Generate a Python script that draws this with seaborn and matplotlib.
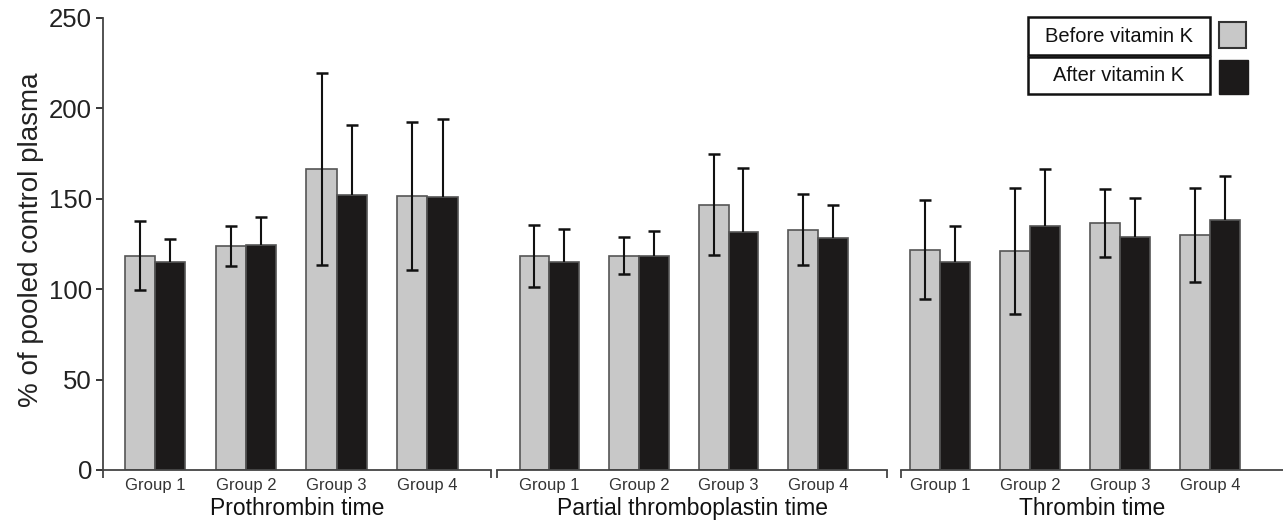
import numpy as np
import pandas as pd
import seaborn as sns
import matplotlib.pyplot as plt
from matplotlib.patches import Rectangle

# ===============================
# Data
# ===============================
TESTS = ["Prothrombin time", "Partial thromboplastin time", "Thrombin time"]
GROUPS = ["Group 1", "Group 2", "Group 3", "Group 4"]
PERIODS = ["Before vitamin K", "After vitamin K"]

pt_before = [118.5, 123.7, 166.3, 151.7]
pt_before_sd = [19.0, 11.0, 53.0, 41.0]
pt_after = [115.0, 124.3, 152.1, 151.0]
pt_after_sd = [12.6, 15.5, 38.9, 43.3]

ptt_before = [118.4, 118.5, 146.8, 132.9]
ptt_before_sd = [17.0, 10.2, 28.0, 19.8]
ptt_after = [114.9, 118.4, 131.4, 128.5]
ptt_after_sd = [18.4, 14.0, 35.6, 18.3]

tt_before = [121.9, 121.1, 136.6, 130.0]
tt_before_sd = [27.2, 35.0, 19.0, 26.0]
tt_after = [115.2, 135.0, 128.7, 138.1]
tt_after_sd = [19.6, 31.3, 21.7, 24.7]

GRAY = "#c8c8c8"
BLACK = "#1c1a1a"

values = {
    TESTS[0]: (pt_before, pt_after, pt_before_sd, pt_after_sd),
    TESTS[1]: (ptt_before, ptt_after, ptt_before_sd, ptt_after_sd),
    TESTS[2]: (tt_before, tt_after, tt_before_sd, tt_after_sd),
}

rows = []
for test, (bef, aft, bsd, asd) in values.items():
    for g, b, a, sb, sa in zip(GROUPS, bef, aft, bsd, asd):
        rows.append({"test": test, "group": g, "period": PERIODS[0], "value": b, "sd": sb})
        rows.append({"test": test, "group": g, "period": PERIODS[1], "value": a, "sd": sa})
df = pd.DataFrame(rows)

# ===============================
# Style
# ===============================
sns.set_style("ticks")
plt.rcParams["font.family"] = ["Liberation Sans", "DejaVu Sans"]
plt.rcParams["axes.edgecolor"] = "#444444"
plt.rcParams["axes.linewidth"] = 1.3

fig = plt.figure(figsize=(12.83, 5.24), dpi=100)
bottom, height = 0.1031, 0.8626
positions = [
    [0.0803, bottom, 0.3024, height],
    [0.3874, bottom, 0.3040, height],
    [0.7023, bottom, 0.2977, height],
]
xlims = [(-0.573, 3.70), (-0.584, 3.77), (-0.43, 3.81)]

for i, test in enumerate(TESTS):
    ax = fig.add_axes(positions[i])
    sub = df[df["test"] == test]
    sns.barplot(
        data=sub, x="group", y="value", hue="period",
        order=GROUPS, hue_order=PERIODS,
        palette=[GRAY, BLACK], width=0.665, gap=0,
        edgecolor="#555555", linewidth=1.2,
        errorbar=None, legend=False, ax=ax,
    )
    # error bars from the bar geometry seaborn computed
    # (the lower whisker of the dark bars is hidden in the original)
    for k, (cont, period) in enumerate(zip(ax.containers, PERIODS)):
        sds = sub[sub["period"] == period].set_index("group").loc[GROUPS, "sd"].values
        xs = [b.get_x() + b.get_width() / 2 for b in cont]
        ys = [b.get_height() for b in cont]
        lower = sds if k == 0 else np.zeros_like(sds)
        _, caps, _ = ax.errorbar(xs, ys, yerr=[lower, sds], fmt="none", ecolor="#111111",
                                 elinewidth=1.5, capsize=4, capthick=1.8, zorder=5)
        if k == 1:
            caps[0].set_visible(False)

    ax.set_xlim(*xlims[i])
    ax.set_ylim(0, 250)
    ax.set_xlabel(test, fontsize=16.5, labelpad=3, color="#111111")
    ax.tick_params(axis="x", which="major", length=0, pad=6,
                   labelsize=12, labelcolor="#333333")
    # small end ticks on each broken x-axis segment
    ends = [xlims[i][0], xlims[i][1]] if i < 2 else [xlims[i][0]]
    ax.set_xticks(ends, minor=True)
    ax.tick_params(axis="x", which="minor", length=6, width=1.3,
                   direction="out", color="#444444")
    sns.despine(ax=ax, top=True, right=True, left=(i > 0))
    if i == 0:
        ax.set_yticks([0, 50, 100, 150, 200, 250])
        ax.tick_params(axis="y", length=5, width=1.3, pad=3, labelsize=18.5,
                       labelcolor="#222222")
        ax.set_ylabel("% of pooled control plasma", fontsize=20, color="#222222")
        ax.yaxis.set_label_coords(-0.152, 0.51)
    else:
        ax.set_yticks([])
        ax.set_ylabel("")

# ===============================
# Legend (boxed labels with swatches)
# ===============================
box_x, box_w = 0.801, 0.1421
for (y0, h), label in zip([(0.895, 0.0719), (0.8206, 0.0712)], PERIODS):
    fig.patches.append(Rectangle((box_x, y0), box_w, h, transform=fig.transFigure,
                                 facecolor="white", edgecolor="#111111", lw=1.8))
    fig.text(box_x + box_w / 2, y0 + h / 2, label, ha="center", va="center",
             fontsize=14.5, color="#111111")
fig.patches.append(Rectangle((0.9504, 0.9078), 0.0208, 0.0508, transform=fig.transFigure,
                             facecolor=GRAY, edgecolor="#333333", lw=1.5))
fig.patches.append(Rectangle((0.9501, 0.8200), 0.0226, 0.0655, transform=fig.transFigure,
                             facecolor=BLACK, edgecolor=BLACK, lw=1.0))

fig.savefig("out.png", dpi=100)
